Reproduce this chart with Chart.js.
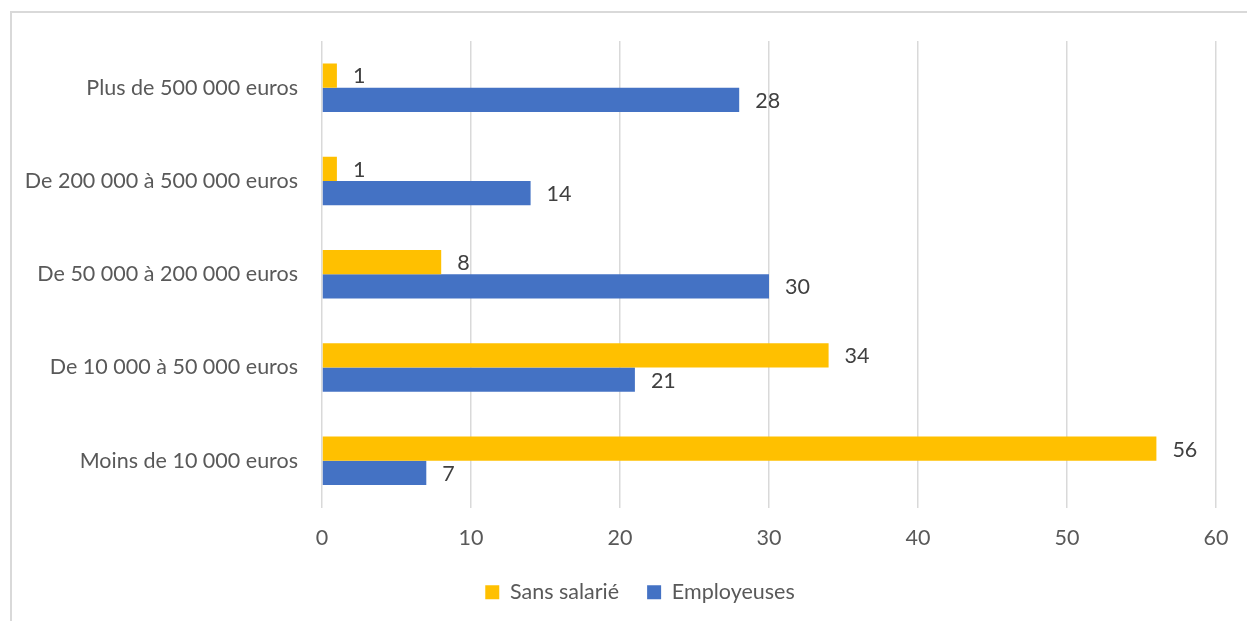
<!DOCTYPE html>
<html><head><meta charset="utf-8">
<script src="https://cdn.jsdelivr.net/npm/chart.js@4.4.1/dist/chart.umd.min.js"></script>
<style>
html,body{margin:0;padding:0;background:#fff;overflow:hidden;}
#wrap{position:relative;width:1247px;height:621px;}
#frame{position:absolute;left:10px;top:11px;width:1300px;height:700px;border:2px solid #d9d9d9;box-sizing:border-box;}
canvas{position:absolute;left:0;top:0;}
</style></head>
<body><div id="wrap"><div id="frame"></div><canvas id="c" width="1247" height="621"></canvas></div>
<script>
const categories = [
  'Plus de 500 000 euros',
  'De 200 000 à 500 000 euros',
  'De 50 000 à 200 000 euros',
  'De 10 000 à 50 000 euros',
  'Moins de 10 000 euros'
];
const seriesNames = ['Sans salarié', 'Employeuses'];
const sansSalarie = [1, 1, 8, 34, 56];
const employeuses = [28, 14, 30, 21, 7];
const xMin = 0, xMax = 60, xStep = 10;

const FONT = 'Lato, "Open Sans", sans-serif';
const FS = 21.5;

const valueLabels = {
  id: 'valueLabels',
  afterDatasetsDraw(chart) {
    const ctx = chart.ctx;
    ctx.save();
    ctx.font = FS + 'px ' + FONT;
    ctx.fillStyle = '#404040';
    ctx.textAlign = 'left';
    ctx.textBaseline = 'middle';
    chart.data.datasets.forEach((ds, i) => {
      chart.getDatasetMeta(i).data.forEach((bar, j) => {
        ctx.fillText(String(ds.data[j]), bar.x + 16, bar.y + 1);
      });
    });
    ctx.restore();
  }
};

const legendShift = {
  id: 'legendShift',
  afterLayout(chart) {
    chart.legend.left += 32;
    chart.legend.right += 32;
  }
};

new Chart(document.getElementById('c'), {
  type: 'bar',
  data: {
    labels: categories,
    datasets: [
      { label: seriesNames[0], data: sansSalarie, backgroundColor: '#FFC000' },
      { label: seriesNames[1], data: employeuses, backgroundColor: '#4472C4' }
    ]
  },
  options: {
    indexAxis: 'y',
    responsive: false,
    animation: false,
    events: [],
    layout: { padding: { left: 0, right: 31, top: 41, bottom: 8 } },
    datasets: { bar: { categoryPercentage: 0.52, barPercentage: 1.0 } },
    scales: {
      x: {
        min: xMin, max: xMax,
        ticks: { stepSize: xStep, padding: 18, color: '#595959', font: { family: FONT, size: FS } },
        grid: { color: '#d9d9d9', lineWidth: 1.5, drawTicks: false },
        border: { display: false },
        afterFit(scale) { scale.height = 46; }
      },
      y: {
        ticks: { padding: 24, color: '#595959', font: { family: FONT, size: FS } },
        grid: { display: false, drawTicks: false },
        border: { display: false },
        afterFit(scale) { scale.width = 322; }
      }
    },
    plugins: {
      legend: {
        position: 'bottom',
        labels: { boxWidth: 14, boxHeight: 14, padding: 28, color: '#595959', font: { family: FONT, size: FS } }
      },
      tooltip: { enabled: false }
    }
  },
  plugins: [valueLabels, legendShift]
});
</script>
</body></html>
